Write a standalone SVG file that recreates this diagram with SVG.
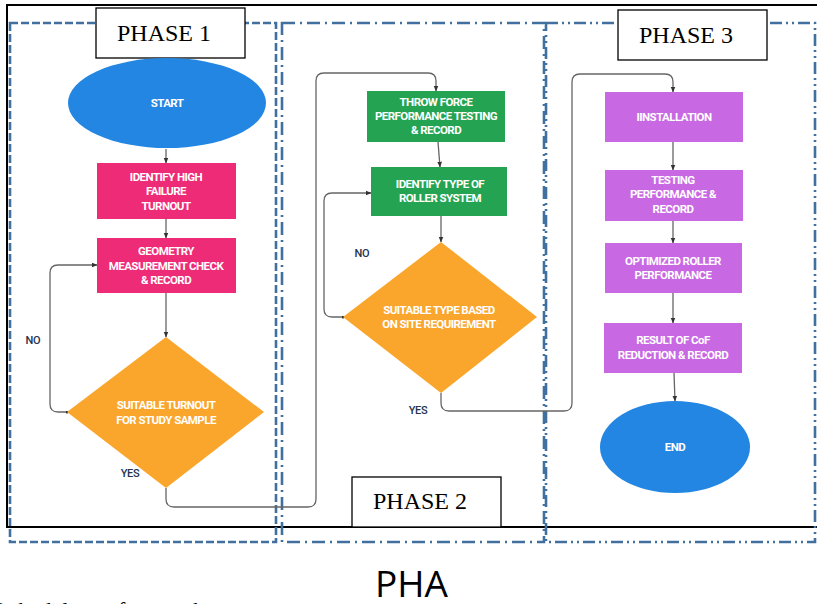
<svg xmlns="http://www.w3.org/2000/svg" width="817" height="604" viewBox="0 0 817 604">
<style>
.nt{font-family:Roboto,"Liberation Sans",sans-serif;font-weight:bold;font-size:11.5px;fill:#fff;text-anchor:middle;letter-spacing:-0.55px}
.lb{font-family:Roboto,"Liberation Sans",sans-serif;font-weight:500;font-size:11px;fill:#26344f;text-anchor:middle;letter-spacing:-0.3px}
.ph{font-family:"Liberation Serif","Times New Roman",serif;font-size:24px;fill:#000}
.pbox{fill:#fff;stroke:#000;stroke-width:1.3}
.zone{fill:none;stroke:#41709f;stroke-width:2.6}
.cn{fill:none;stroke:#666;stroke-width:1.3}
.blue{fill:#2386e2}.pink{fill:#ee2b76}.green{fill:#24a453}.orange{fill:#faa62c}.purple{fill:#c968e3}
</style>
<defs>
<marker id="ah" viewBox="0 0 10 10" refX="9" refY="5" markerWidth="6" markerHeight="6" orient="auto" markerUnits="userSpaceOnUse">
<path d="M0,1 L10,5 L0,9 z" fill="#333"/>
</marker>
<marker id="dot" viewBox="0 0 6 6" refX="3" refY="3" markerWidth="3" markerHeight="3" markerUnits="userSpaceOnUse">
<circle cx="3" cy="3" r="3" fill="#333"/>
</marker>
</defs>
<rect width="817" height="604" fill="#fff"/>
<rect x="7" y="5" width="830" height="522" fill="none" stroke="#000" stroke-width="2"/>
<g id="zones">
<rect class="zone" x="10" y="23" width="266" height="519" stroke-dasharray="8 3"/>
<rect class="zone" x="282" y="23" width="262" height="519" stroke-dasharray="13 5 2 5"/>
<rect class="zone" x="546" y="23" width="269" height="519" stroke-dasharray="12 4 2 4 2 4"/>
</g>
<g id="phase1-label"><rect class="pbox" x="96" y="8" width="149" height="50"/><text class="ph" x="117" y="41">PHASE 1</text></g>
<g id="phase3-label"><rect class="pbox" x="618" y="10" width="149" height="50"/><text class="ph" x="639" y="43">PHASE 3</text></g>
<g id="phase2-label"><rect class="pbox" x="352" y="477" width="149" height="50"/><text class="ph" x="373" y="509">PHASE 2</text></g>
<g id="connectors">
<path class="cn" d="M166,149 V163" marker-end="url(#ah)"/>
<path class="cn" d="M166,219 V238" marker-end="url(#ah)"/>
<path class="cn" d="M166,293 V337" marker-end="url(#ah)"/>
<path class="cn" d="M67,412 H58 Q50,412 50,404 V273 Q50,265 58,265 H97" marker-start="url(#dot)" marker-end="url(#ah)"/>
<path class="cn" d="M166,488 V499 Q166,507 174,507 H308 Q316,507 316,499 V81 Q316,73 324,73 H428 Q436,73 436,81 V91" marker-end="url(#ah)"/>
<path class="cn" d="M438,142 L440,167" marker-end="url(#ah)"/>
<path class="cn" d="M441,216 V242" marker-end="url(#ah)"/>
<path class="cn" d="M343,317 H332 Q324,317 324,309 V201 Q324,193 332,193 H371" marker-start="url(#dot)" marker-end="url(#ah)"/>
<path class="cn" d="M441,393 V403 Q441,411 449,411 H564 Q572,411 572,403 V82 Q572,74 580,74 H665 Q673,74 673,82 V92" marker-end="url(#ah)"/>
<path class="cn" d="M673,142 V170" marker-end="url(#ah)"/>
<path class="cn" d="M673,221 V243" marker-end="url(#ah)"/>
<path class="cn" d="M673,293 V323" marker-end="url(#ah)"/>
<path class="cn" d="M674,373 L675,401" marker-end="url(#ah)"/>
</g>
<g id="labels">
<text class="lb" x="33" y="344">NO</text>
<text class="lb" x="130" y="477">YES</text>
<text class="lb" x="362" y="257">NO</text>
<text class="lb" x="418" y="414">YES</text>
</g>
<g id="start"><ellipse class="blue" cx="167" cy="103" rx="99" ry="45"/><text class="nt" x="167" y="107">START</text></g>
<g id="identify-high"><rect class="pink" x="97" y="163" width="139" height="56"/><text class="nt" x="166" y="181">IDENTIFY HIGH</text><text class="nt" x="166" y="195">FAILURE</text><text class="nt" x="166" y="210">TURNOUT</text></g>
<g id="geometry"><rect class="pink" x="97" y="238" width="139" height="55"/><text class="nt" x="166" y="255">GEOMETRY</text><text class="nt" x="166" y="270">MEASUREMENT CHECK</text><text class="nt" x="166" y="284">&amp; RECORD</text></g>
<g id="suitable-turnout"><polygon class="orange" points="166,337 264,412 166,488 67,412"/><text class="nt" x="166" y="409">SUITABLE TURNOUT</text><text class="nt" x="166" y="424">FOR STUDY SAMPLE</text></g>
<g id="throw-force"><rect class="green" x="367" y="91" width="138" height="51"/><text class="nt" x="436" y="106">THROW FORCE</text><text class="nt" x="436" y="120">PERFORMANCE TESTING</text><text class="nt" x="436" y="134">&amp; RECORD</text></g>
<g id="identify-type"><rect class="green" x="371" y="167" width="136" height="49"/><text class="nt" x="440" y="188">IDENTIFY TYPE OF</text><text class="nt" x="440" y="202">ROLLER SYSTEM</text></g>
<g id="suitable-type"><polygon class="orange" points="441,242 537,317 441,393 343,317"/><text class="nt" x="439" y="314">SUITABLE TYPE BASED</text><text class="nt" x="439" y="328">ON SITE REQUIREMENT</text></g>
<g id="installation"><rect class="purple" x="605" y="92" width="138" height="50"/><text class="nt" x="674" y="121">IINSTALLATION</text></g>
<g id="testing"><rect class="purple" x="605" y="170" width="138" height="51"/><text class="nt" x="673" y="184">TESTING</text><text class="nt" x="673" y="198">PERFORMANCE &amp;</text><text class="nt" x="673" y="213">RECORD</text></g>
<g id="optimized"><rect class="purple" x="605" y="243" width="137" height="50"/><text class="nt" x="673" y="265">OPTIMIZED ROLLER</text><text class="nt" x="673" y="279">PERFORMANCE</text></g>
<g id="result"><rect class="purple" x="604" y="323" width="138" height="50"/><text class="nt" x="673" y="344">RESULT OF CoF</text><text class="nt" x="673" y="359">REDUCTION &amp; RECORD</text></g>
<g id="end"><ellipse class="blue" cx="675" cy="447" rx="75" ry="46"/><text class="nt" x="675" y="451">END</text></g>
<text x="375" y="597" font-family="'Open Sans','Liberation Sans',sans-serif" font-size="37" fill="#000">PHA</text>
<text x="-17" y="617" font-family="'Liberation Serif','Times New Roman',serif" font-size="22" fill="#000">Methodology of research</text>
</svg>
